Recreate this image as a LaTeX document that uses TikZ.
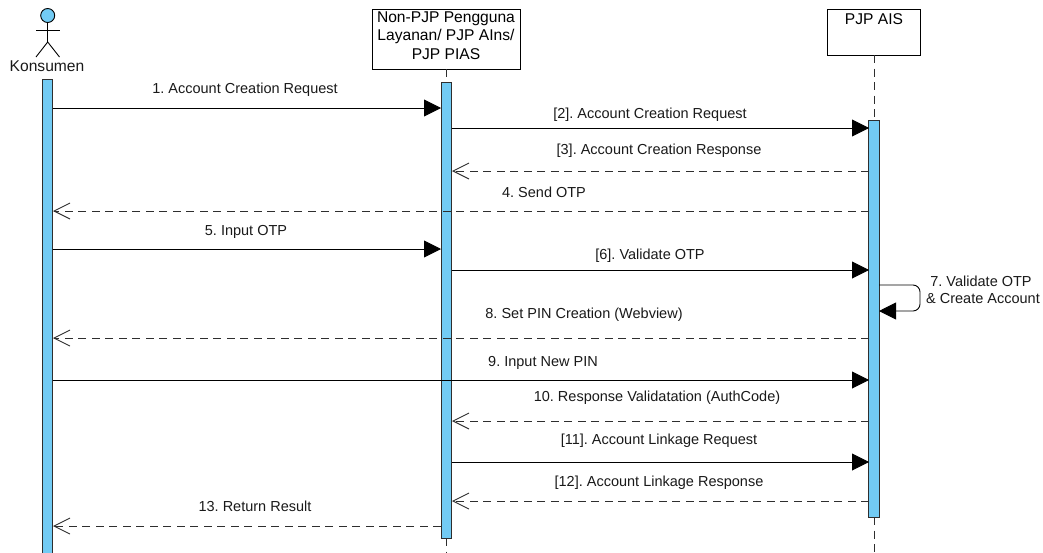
\documentclass[tikz,border=0pt]{standalone}
\usepackage{fontspec}
\setmainfont{Liberation Sans}
\usetikzlibrary{arrows.meta}
\definecolor{barblue}{HTML}{72CBF4}
\definecolor{linegray}{HTML}{2E2E2E}
\frenchspacing
\begin{document}
\begin{tikzpicture}[x=1pt, y=-1pt]
\useasboundingbox (0, 0) rectangle (1043, 552);

\tikzset{SolidStyle/.style = {draw=black, line width=0.9pt, -{Triangle[length=17pt, width=17pt]}} }
\tikzset{DashStyle/.style = {draw=linegray, line width=0.9pt, dash pattern=on 8pt off 5.5pt, -{Straight Barb[length=16pt, width=16pt, line width=0.9pt]}} }
\tikzset{LifeStyle/.style = {draw=linegray, line width=0.9pt, dash pattern=on 8pt off 5.5pt} }
\tikzset{LabelStyle/.style = {font=\fontsize{14.5pt}{17pt}\selectfont, text=black!90, inner sep=0pt, outer sep=0pt, yshift=-0.8pt} }
\tikzset{BoxStyle/.style = {draw=black, line width=0.9pt, fill=white, align=center, inner sep=0pt, outer sep=0pt, font=\fontsize{15.6pt}{18.5pt}\selectfont} }
\tikzset{BarStyle/.style = {draw=linegray, line width=1pt, fill=barblue, inner sep=0pt, outer sep=0pt, minimum width=10.5pt} }

\node[BoxStyle, minimum width=148pt, minimum height=60pt] (Partner) at (446, 39) {Non-PJP Pengguna\\Layanan/ PJP AIns/\\PJP PIAS\rule[-7pt]{0pt}{7pt}};
\node[BoxStyle, minimum width=92.5pt, minimum height=46pt, text height=11pt, text depth=27pt] (AIS) at (874, 32) {PJP AIS};

\coordinate (L2_1) at (446, 538);
\coordinate (L2_2) at (446, 552);
\coordinate (L3_1) at (874, 517);
\coordinate (L3_2) at (874, 552);
\draw[LifeStyle] (Partner.south) -- (446, 82);
\draw[LifeStyle] (AIS.south) -- (874, 120);
\draw[LifeStyle] (L2_1) -- (L2_2);
\draw[LifeStyle] (L3_1) -- (L3_2);

\node[BarStyle, minimum height=476pt] (Bar1) at (47.5, 317) {};
\node[BarStyle, minimum height=456pt] (Bar2) at (446.5, 310) {};
\node[BarStyle, minimum height=397pt] (Bar3) at (874, 318.5) {};

\node[circle, draw=black, line width=0.9pt, fill=barblue, minimum size=14pt, inner sep=0pt, outer sep=0pt] (Head) at (47.7, 15.5) {};
\coordinate (Hip) at (47.7, 42);
\coordinate (ArmL) at (36, 30);
\coordinate (ArmR) at (59.5, 30);
\coordinate (LegL) at (36, 57);
\coordinate (LegR) at (59.5, 57);
\draw[line width=0.9pt] (Head.south) -- (Hip);
\draw[line width=0.9pt] (ArmL) -- (ArmR);
\draw[line width=0.9pt] (LegL) -- (Hip) -- (LegR);
\node[LabelStyle, font=\fontsize{15.6pt}{18pt}\selectfont] (Actor) at (47, 65) {Konsumen};

\coordinate (M1_1) at (53, 108);
\coordinate (M1_2) at (441, 108);
\coordinate (M2_1) at (452, 128);
\coordinate (M2_2) at (869, 128);
\coordinate (M3_1) at (869, 171);
\coordinate (M3_2) at (452, 171);
\coordinate (M4_1) at (869, 211);
\coordinate (M4_2) at (53, 211);
\coordinate (M5_1) at (53, 249);
\coordinate (M5_2) at (441, 249);
\coordinate (M6_1) at (452, 270);
\coordinate (M6_2) at (869, 270);
\coordinate (M7_1) at (879, 285);
\coordinate (M7_2) at (920, 285);
\coordinate (M7_3) at (920, 311);
\coordinate (M7_4) at (879, 311);
\coordinate (M8_1) at (869, 338);
\coordinate (M8_2) at (53, 338);
\coordinate (M9_1) at (53, 380);
\coordinate (M9_2) at (869, 380);
\coordinate (M10_1) at (869, 421);
\coordinate (M10_2) at (452, 421);
\coordinate (M11_1) at (452, 462);
\coordinate (M11_2) at (869, 462);
\coordinate (M12_1) at (869, 501);
\coordinate (M12_2) at (452, 501);
\coordinate (M13_1) at (441, 526);
\coordinate (M13_2) at (53, 526);

\draw[SolidStyle] (M1_1) -- (M1_2);
\draw[SolidStyle] (M2_1) -- (M2_2);
\draw[DashStyle] (M3_1) -- (M3_2);
\draw[DashStyle] (M4_1) -- (M4_2);
\draw[SolidStyle] (M5_1) -- (M5_2);
\draw[SolidStyle] (M6_1) -- (M6_2);
\draw[SolidStyle, rounded corners=7pt] (M7_1) -- (M7_2) -- (M7_3) -- (M7_4);
\draw[DashStyle] (M8_1) -- (M8_2);
\draw[SolidStyle] (M9_1) -- (M9_2);
\draw[DashStyle] (M10_1) -- (M10_2);
\draw[SolidStyle] (M11_1) -- (M11_2);
\draw[DashStyle] (M12_1) -- (M12_2);
\draw[DashStyle] (M13_1) -- (M13_2);

\node[LabelStyle] (T1) at (245, 89) {1. Account Creation Request};
\node[LabelStyle] (T2) at (650, 114) {[2]. Account Creation Request};
\node[LabelStyle] (T3) at (659, 150) {[3]. Account Creation Response};
\node[LabelStyle] (T4) at (544, 192) {4. Send OTP};
\node[LabelStyle] (T5) at (246, 231) {5. Input OTP};
\node[LabelStyle] (T6) at (650, 255) {[6]. Validate OTP};
\node[LabelStyle] (T7_1) at (981, 281) {7. Validate OTP};
\node[LabelStyle] (T7_2) at (983, 298) {\& Create Account};
\node[LabelStyle] (T8) at (584, 314) {8. Set PIN Creation (Webview)};
\node[LabelStyle] (T9) at (543, 362) {9. Input New PIN};
\node[LabelStyle] (T10) at (657, 397) {10. Response Validatation (AuthCode)};
\node[LabelStyle] (T11) at (659, 440) {[11]. Account Linkage Request};
\node[LabelStyle] (T12) at (659, 482) {[12]. Account Linkage Response};
\node[LabelStyle] (T13) at (255, 506) {13. Return Result};

\end{tikzpicture}
\end{document}
